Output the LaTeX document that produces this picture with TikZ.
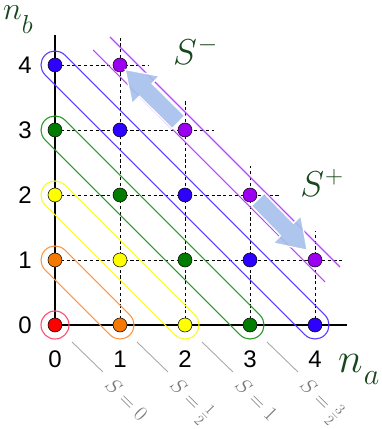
\RequirePackage{fix-cm}
\documentclass[tikz,border=0pt]{standalone}
\usepackage{fontspec}
\newfontfamily\arialf{Liberation Sans}
\usetikzlibrary{calc}
\definecolor{dc0}{RGB}{255,0,0}
\definecolor{dc1}{RGB}{245,120,0}
\definecolor{dc2}{RGB}{255,255,0}
\definecolor{dc3}{RGB}{0,125,0}
\definecolor{dc4}{RGB}{45,0,255}
\definecolor{dc5}{RGB}{155,0,240}
\definecolor{sc0}{RGB}{255,80,110}
\definecolor{sc1}{RGB}{255,150,70}
\definecolor{sc2}{RGB}{250,250,40}
\definecolor{sc3}{RGB}{40,155,40}
\definecolor{sc4}{RGB}{90,60,255}
\definecolor{sc5}{RGB}{185,70,255}
\definecolor{arrowblue}{RGB}{165,192,236}
\definecolor{labgreen}{RGB}{22,72,28}
\definecolor{slgray}{RGB}{120,120,120}
\definecolor{sgline}{RGB}{170,170,170}
\newcommand{\bigS}{{\fontsize{36}{40}\selectfont$S$}}
\newcommand{\supsign}[1]{\hspace{1pt}\raisebox{13.5pt}{\fontsize{25}{27}\selectfont$#1$}}
\begin{document}
\begin{tikzpicture}[x=65pt,y=65pt,
  dot/.style={circle, draw=black, line width=0.5pt, minimum size=14pt, inner sep=0pt},
  stad/.style={rectangle, rounded corners=14pt, minimum height=28pt, inner sep=0pt, outer sep=0pt, line width=1.1pt, rotate=-45},
  gdash/.style={dash pattern=on 3.2pt off 2.6pt, line width=0.8pt, black},
  axisline/.style={line width=2.8pt, black},
  purpline/.style={draw=sc5, line width=1.1pt},
  bigarrow/.style={fill=arrowblue, fill opacity=0.9, draw=white, line width=1.3pt, line join=miter},
  tick/.style={font=\arialf\fontsize{24}{26}\selectfont, inner sep=0pt},
  sline/.style={draw=sgline, line width=0.9pt},
  slabel/.style={font=\fontsize{21}{23}\selectfont, text=slgray, rotate=-45, anchor=base west, inner sep=0pt},
  titlelab/.style={text=labgreen, inner sep=0pt, anchor=base west}
]
\useasboundingbox (-0.84615,-1.6) rectangle (5.03077,5.0);
% dashed grid
\foreach \b in {1,...,4} {
  \draw[gdash] (0,\b) -- ({5.45-\b},\b);
}
\foreach \a in {1,...,4} {
  \draw[gdash] (\a,0) -- (\a,{5.45-\a});
}
% axes
\coordinate (ytop) at (0,4.46);
\coordinate (orig) at (0,0);
\coordinate (xend) at (4.49,0);
\draw[axisline] (ytop) -- (orig) -- (xend);
% stadiums
\node[circle, draw=sc0, line width=1.1pt, minimum size=28pt, inner sep=0pt] (g0) at (0,0) {};
\foreach \N in {1,...,4} {
  \pgfmathsetmacro\w{\N*91.924+28}
  \node[stad, draw=sc\N, minimum width=\w pt] (g\N) at ({\N/2},{\N/2}) {};
}
% purple lines
\coordinate (pu1) at (0.846,4.431);
\coordinate (pu2) at (4.385,0.892);
\coordinate (pl1) at (0.585,4.231);
\coordinate (pl2) at (4.154,0.662);
\draw[purpline] (pu1) -- (pu2);
\draw[purpline] (pl1) -- (pl2);
% dots
\foreach \a in {0,...,4} {
  \foreach \b in {0,...,4} {
    \pgfmathtruncatemacro\N{\a+\b}
    \ifnum\N<6
      \node[dot, fill=dc\N] (p\a\b) at (\a,\b) {};
    \fi
  }
}
% arrows
\coordinate (mT) at (1.90,3.12);
\coordinate (mH) at (1.08,3.93);
\coordinate (mB) at ($(mH)!29pt!(mT)$);
\path[bigarrow] ($(mT)!9pt!90:(mH)$) -- ($(mB)!9pt!90:(mH)$) -- ($(mB)!19.5pt!90:(mH)$) -- (mH) -- ($(mB)!19.5pt!-90:(mH)$) -- ($(mB)!9pt!-90:(mH)$) -- ($(mT)!9pt!-90:(mH)$) -- cycle;
\coordinate (pT) at (3.12,1.93);
\coordinate (pH) at (3.88,1.15);
\coordinate (pB) at ($(pH)!29pt!(pT)$);
\path[bigarrow] ($(pT)!9pt!90:(pH)$) -- ($(pB)!9pt!90:(pH)$) -- ($(pB)!19.5pt!90:(pH)$) -- (pH) -- ($(pB)!19.5pt!-90:(pH)$) -- ($(pB)!9pt!-90:(pH)$) -- ($(pT)!9pt!-90:(pH)$) -- cycle;
% tick labels
\foreach \b in {0,...,4} {
  \node[tick] (ly\b) at (-0.46,\b) {\b};
}
\foreach \a in {0,...,4} {
  \node[tick] (lx\a) at (\a,-0.52) {\a};
}
% S labels
\foreach \k/\t in {0/{$S=0$},1/{$S=\frac{1}{2}$},2/{$S=1$},3/{$S=\frac{3}{2}$}} {
  \coordinate (sa\k) at ({\k+0.26},-0.26);
  \coordinate (sb\k) at ({\k+0.738},-0.723);
  \draw[sline] (sa\k) -- (sb\k);
  \node[slabel] (st\k) at ({\k+0.75},-0.95) {\t};
}
% titles
\node[titlelab] (nb) at (-0.80,4.70) {{\fontsize{32}{34}\selectfont$n$}{\fontsize{26}{28}\selectfont\raisebox{-14pt}{$b$}}};
\node[titlelab] (na) at (4.354,-0.738) {{\fontsize{42}{44}\selectfont$n$}\hspace{1pt}{\fontsize{30}{32}\selectfont\raisebox{-12pt}{$a$}}};
\node[titlelab] (sm) at (1.815,4.0) {\bigS\supsign{-}};
\node[titlelab] (sp) at (3.77,1.97) {\bigS\supsign{+}};
\end{tikzpicture}
\end{document}
